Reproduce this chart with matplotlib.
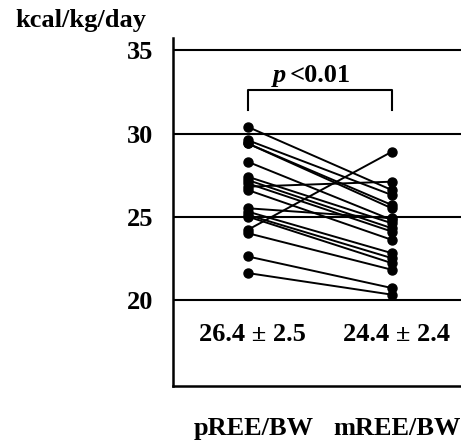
import matplotlib
matplotlib.use("Agg")
import matplotlib.pyplot as plt

plt.rcParams['font.family'] = ['Liberation Serif', 'DejaVu Serif']

categories = ["pREE/BW", "mREE/BW"]
pree = [30.4, 29.6, 29.4, 29.4, 28.3, 27.4, 27.2, 27.0, 26.8, 26.6,
        25.5, 25.3, 25.1, 25.0, 24.2, 24.0, 22.6, 21.6]
mree = [26.6, 26.3, 25.7, 25.5, 24.8, 24.6, 24.3, 24.1, 27.1, 23.6,
        24.9, 22.8, 22.5, 22.2, 28.9, 21.8, 20.7, 20.3]
summary = ["26.4 \u00b1 2.5", "24.4 \u00b1 2.4"]
yticks = [20, 25, 30, 35]
ylabel = "kcal/kg/day"
ptext = "<0.01"

FS = 19
W, H = 461, 440
fig = plt.figure(figsize=(W/100, H/100), dpi=100)
ax = fig.add_axes([173/W, 1-386/H, (W-173)/W, (386-38)/H])
ax.set_xlim(-0.519, 1.481)
ax.set_ylim(14.8, 35.75)

for y in yticks:
    ax.axhline(y, color='black', lw=1.5, zorder=1)

for a, b in zip(pree, mree):
    ax.plot([0, 1], [a, b], color='black', lw=1.4, marker='o', ms=6.5,
            mfc='black', mec='black', zorder=3)

for s in ['top', 'right']:
    ax.spines[s].set_visible(False)
for s in ['left', 'bottom']:
    ax.spines[s].set_linewidth(1.8)

ax.set_yticks(yticks)
ax.set_yticklabels([str(t) for t in yticks], fontsize=FS, fontweight='bold')
ax.tick_params(axis='y', length=0, pad=14)
ax.set_xticks([0.04, 1.035])
ax.set_xticklabels(categories, fontsize=FS, fontweight='bold')
ax.tick_params(axis='x', length=0, pad=22)

# bracket
ax.plot([0, 0, 1, 1], [31.4, 32.6, 32.6, 31.4], color='black', lw=1.5,
        clip_on=False)
ax.text(0.27, 33.1, "p", fontsize=FS, fontweight='bold', style='italic',
        ha='right', va='baseline')
ax.text(0.29, 33.1, ptext, fontsize=FS, fontweight='bold',
        ha='left', va='baseline')

ax.text(0.03, 17.9, summary[0], fontsize=FS, fontweight='bold', ha='center', va='center')
ax.text(1.035, 17.9, summary[1], fontsize=FS, fontweight='bold', ha='center', va='center')

fig.text(15/W, 1-20/H, ylabel, fontsize=FS, fontweight='bold', ha='left', va='center')

fig.savefig("out.png", dpi=100)
